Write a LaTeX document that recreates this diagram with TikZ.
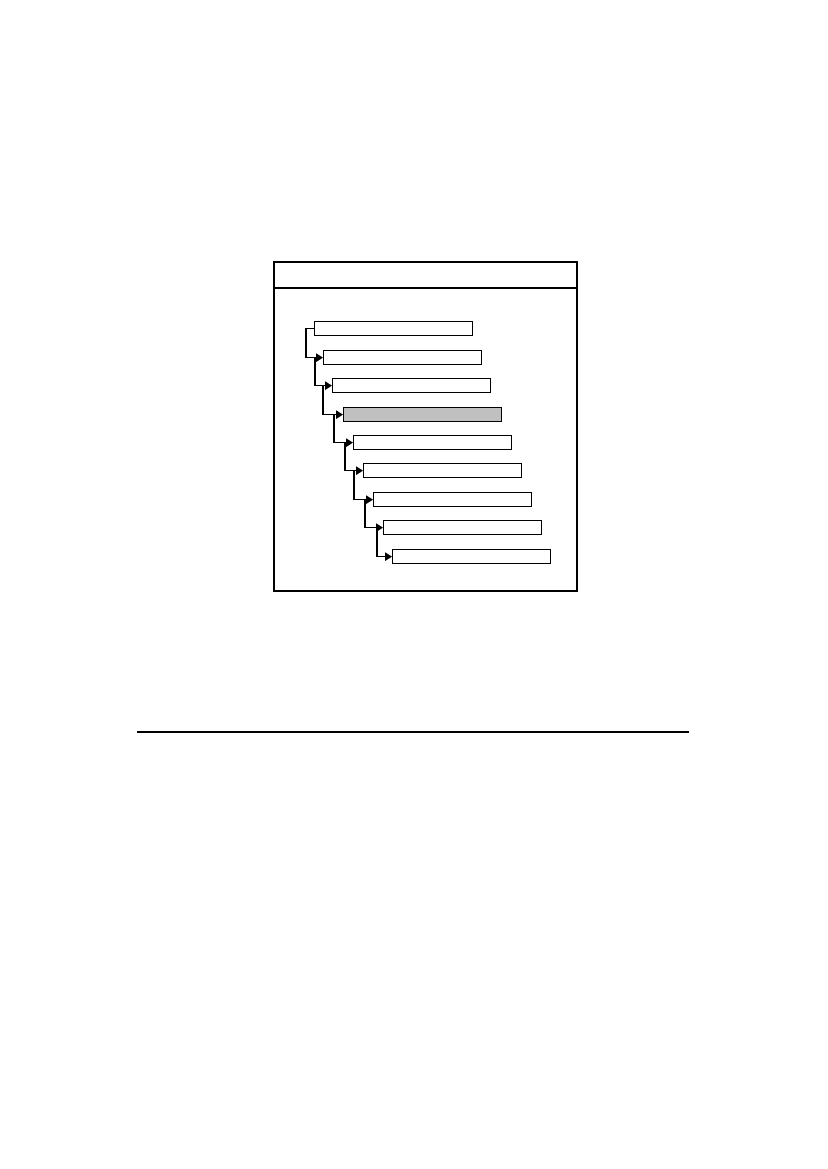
\documentclass[tikz,border=0pt]{standalone}
\usepackage{amssymb,amsmath}
\usetikzlibrary{arrows.meta}
\definecolor{barfill}{RGB}{192,192,192}
\tikzset{
  bar/.style={draw, line width=.6pt, minimum width=113.8pt, minimum height=10.4pt, inner sep=0pt, anchor=north west},
  link/.style={line width=1pt, -{Triangle[length=5pt,width=6pt]}}
}
\begin{document}
\begin{tikzpicture}[x=0.72pt,y=-0.72pt]
\useasboundingbox (0,0) rectangle (827,1169);
% frame with header
\draw[line width=.8pt] (274,262) rectangle (577,591);
\draw[line width=.8pt] (274,288) -- (577,288);
% bars
\node[bar] (one) at (314,321) {};
\node[bar] (two) at (323,350) {};
\node[bar] (three) at (332,378) {};
\node[bar, fill=barfill] (four) at (343,407) {};
\node[bar] (five) at (353,435) {};
\node[bar] (six) at (363,463) {};
\node[bar] (seven) at (373,492) {};
\node[bar] (eight) at (383,520) {};
\node[bar] (nine) at (392,549) {};
% links
\draw[link] (one.west) -- ++(-8,0) |- (two.west);
\draw[link] (two.west) ++(-8,0) |- (three.west);
\draw[link] (three.west) ++(-9,0) |- (four.west);
\draw[link] (four.west) ++(-9,0) |- (five.west);
\draw[link] (five.west) ++(-8,0) |- (six.west);
\draw[link] (six.west) ++(-9,0) |- (seven.west);
\draw[link] (seven.west) ++(-8,0) |- (eight.west);
\draw[link] (eight.west) ++(-6,0) |- (nine.west);
% rule below
\draw[line width=.9pt] (137,732) -- (689,732);
\end{tikzpicture}
\end{document}
